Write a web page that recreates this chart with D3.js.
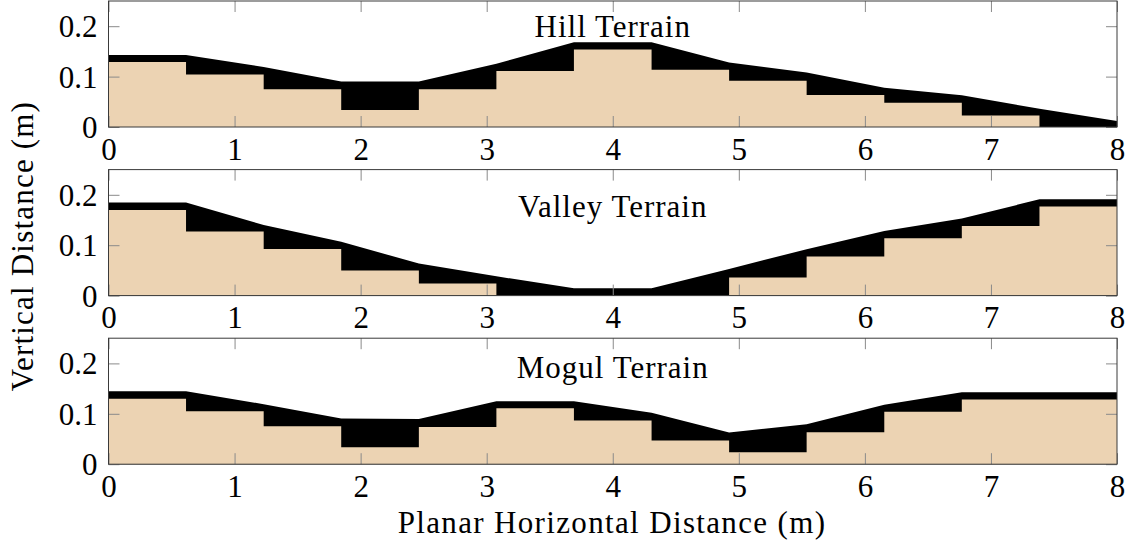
<!DOCTYPE html>
<html>
<head>
<meta charset="utf-8">
<script src="https://cdn.jsdelivr.net/npm/d3@7"></script>
<style>
  html, body { margin: 0; padding: 0; background: #fff; }
  svg { display: block; }
</style>
</head>
<body>
<svg id="chart" width="1138" height="552"></svg>
<script>
// Segment boundaries along the slope (m)
const nodeX = [0, 0.615, 1.231, 1.846, 2.462, 3.077, 3.692, 4.308, 4.923, 5.538, 6.154, 6.769, 7.385, 8];

// Terrain surface heights at each boundary (m)
const hillSurface   = [0.143, 0.143, 0.119, 0.0905, 0.0905, 0.1255, 0.168, 0.168, 0.128, 0.108, 0.078, 0.0628, 0.0364, 0.0119];
const valleySurface = [0.1845, 0.1845, 0.140, 0.107, 0.0635, 0.0383, 0.0145, 0.0145, 0.053, 0.092, 0.128, 0.153, 0.191, 0.191];
const mogulSurface  = [0.1445, 0.1445, 0.119, 0.0908, 0.0895, 0.125, 0.125, 0.102, 0.063, 0.0795, 0.118, 0.143, 0.143, 0.143];

// Block (step) heights for each segment (m)
const hillBlocks   = [0.129, 0.104, 0.0747, 0.0337, 0.0747, 0.111, 0.154, 0.1137, 0.0919, 0.0634, 0.0483, 0.0226, 0];
const valleyBlocks = [0.170, 0.127, 0.0926, 0.0496, 0.0238, 0, 0, 0, 0.0357, 0.0774, 0.1137, 0.138, 0.1766];
const mogulBlocks  = [0.130, 0.105, 0.0755, 0.0338, 0.074, 0.111, 0.0868, 0.047, 0.0239, 0.0636, 0.104, 0.1286, 0.1286];

const terrainNames = ["Hill Terrain", "Valley Terrain", "Mogul Terrain"];
const titleHeights = [0.178, 0.1565, 0.171];

const xTicks = [0, 1, 2, 3, 4, 5, 6, 7, 8];
const yTicks = [0, 0.1, 0.2];
const yTickLabels = ["0", "0.1", "0.2"];
const xDomain = [0, 8];
const yDomain = [0, 0.25];

const panels = [
  { name: terrainNames[0], surface: hillSurface,   blocks: hillBlocks,   titleY: titleHeights[0] },
  { name: terrainNames[1], surface: valleySurface, blocks: valleyBlocks, titleY: titleHeights[1] },
  { name: terrainNames[2], surface: mogulSurface,  blocks: mogulBlocks,  titleY: titleHeights[2] }
];

// Layout
const plotLeft = 108.5, plotRight = 1117;
const panelTops = [1, 169.6, 338.2];
const panelH = 126;
const tickLen = 11;
const fontSize = "31px";
const serif = "'Liberation Serif'";
const soilColor = "#ECD3B3";

const svg = d3.select("#chart");
const x = d3.scaleLinear().domain(xDomain).range([plotLeft, plotRight]);

const textStyle = sel => sel
  .style("font-family", serif)
  .style("font-size", fontSize)
  .style("fill", "#000");

panels.forEach((p, i) => {
  const top = panelTops[i];
  const y = d3.scaleLinear().domain(yDomain).range([top + panelH, top]);
  const g = svg.append("g");

  // Terrain surface: solid area under the profile line
  const surfaceArea = d3.area()
    .x((d, k) => x(nodeX[k]))
    .y0(y(0))
    .y1(d => y(d));
  g.append("path")
    .datum(p.surface)
    .attr("d", surfaceArea)
    .attr("fill", "#000");

  // Step blocks, drawn as one stepped area so neighbouring blocks merge cleanly
  const steps = p.blocks.map((h, k) => ({ x: nodeX[k], h }));
  steps.push({ x: nodeX[nodeX.length - 1], h: p.blocks[p.blocks.length - 1] });
  const blockArea = d3.area()
    .curve(d3.curveStepAfter)
    .x(d => x(d.x))
    .y0(y(0))
    .y1(d => y(d.h));
  g.append("path")
    .datum(steps)
    .attr("d", blockArea)
    .attr("fill", soilColor);

  // Inward ticks on all four sides
  const tickStyle = sel => {
    sel.select(".domain").remove();
    sel.selectAll(".tick line").attr("stroke", "#8a8a8a").attr("stroke-width", 1);
  };

  const bottomAxis = g.append("g")
    .attr("transform", `translate(0,${y(0)})`)
    .call(d3.axisBottom(x).tickValues(xTicks).tickSize(-tickLen).tickPadding(0).tickFormat(d3.format("d")));
  tickStyle(bottomAxis);
  bottomAxis.selectAll(".tick text")
    .attr("y", 32.5).attr("dy", null)
    .call(textStyle);

  const topAxis = g.append("g")
    .attr("transform", `translate(0,${y(yDomain[1])})`)
    .call(d3.axisTop(x).tickValues(xTicks).tickSize(-tickLen).tickFormat(""));
  tickStyle(topAxis);

  const leftAxis = g.append("g")
    .attr("transform", `translate(${plotLeft},0)`)
    .call(d3.axisLeft(y).tickValues(yTicks).tickSize(-tickLen).tickPadding(11)
      .tickFormat((d, k) => yTickLabels[k]));
  tickStyle(leftAxis);
  leftAxis.selectAll(".tick text")
    .attr("dy", "0.34em")
    .call(textStyle);

  const rightAxis = g.append("g")
    .attr("transform", `translate(${plotRight},0)`)
    .call(d3.axisRight(y).tickValues(yTicks).tickSize(-tickLen).tickFormat(""));
  tickStyle(rightAxis);

  // Frame
  g.append("rect")
    .attr("x", plotLeft).attr("y", top)
    .attr("width", plotRight - plotLeft).attr("height", panelH)
    .attr("fill", "none").attr("stroke", "#3a3a3a").attr("stroke-width", 1);

  // Panel title
  g.append("text")
    .attr("x", x(4)).attr("y", y(p.titleY))
    .attr("text-anchor", "middle")
    .call(textStyle)
    .style("letter-spacing", "1px")
    .text(p.name);
});

// Axis titles
svg.append("text")
  .attr("x", 612).attr("y", 533)
  .attr("text-anchor", "middle")
  .call(textStyle)
  .style("letter-spacing", "1.35px")
  .text("Planar Horizontal Distance (m)");

svg.append("text")
  .attr("transform", "translate(33,246) rotate(-90)")
  .attr("text-anchor", "middle")
  .call(textStyle)
  .style("letter-spacing", "1.2px")
  .text("Vertical Distance (m)");
</script>
</body>
</html>
